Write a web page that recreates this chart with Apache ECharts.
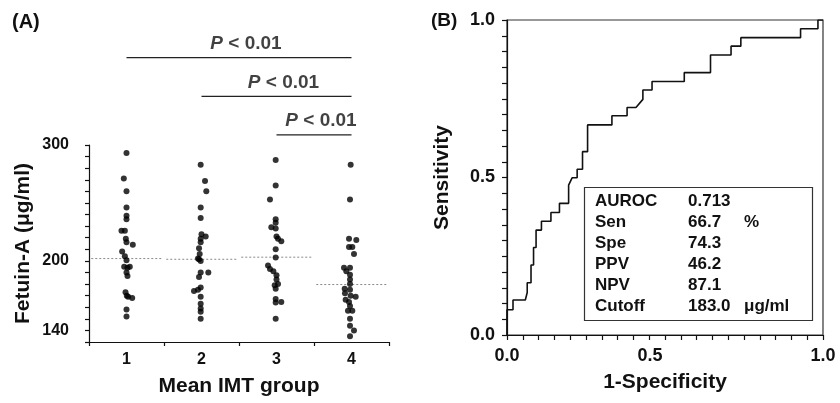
<!DOCTYPE html>
<html><head><meta charset="utf-8">
<script src="https://cdn.jsdelivr.net/npm/echarts/dist/echarts.min.js"></script>
<style>html,body{margin:0;padding:0;background:#fff}#c{width:840px;height:403px}</style>
</head><body><div id="c"></div>
<script>
// ---------- Panel A data ----------
const categories = ['1', '2', '3', '4'];
const yTickLabels = [140, 200, 300];
const g1Values = [293,271,260,246,239,236,226,226,219,216,214,208,204,200.5,195,194,195,190,187,173,170,169,168,158,152];
const g1Jitter = [0,-0.036,0,0,0,0,-0.067,-0.022,-0.009,0,0.084,-0.058,-0.022,0,-0.031,0.013,0.044,0,0.013,-0.013,0.004,0.022,0.076,0,0];
const g2Values = [283,269,260,246,237,223,221,219,216,211,206,202,201.5,200,190,190,186,177,174,175,169,163,159,156,150];
const g2Jitter = [-0.011,0.047,0.064,-0.011,-0.011,0,0.056,-0.011,-0.011,-0.033,-0.024,-0.047,-0.033,-0.011,0.091,-0.011,-0.033,-0.011,-0.1,-0.047,-0.011,-0.011,-0.011,-0.011,-0.011];
const g3Values = [287,265,253,236,233,229,228,221,219,217,210,203,196,193,191,187.5,184,179,180,176,167,164,164.5,150];
const g3Jitter = [-0.011,-0.011,-0.087,-0.011,-0.011,-0.069,-0.011,0,0.02,0.064,-0.011,-0.011,-0.113,-0.087,-0.042,0,0,-0.024,0.02,-0.011,-0.011,-0.011,0.064,-0.011];
const g4Values = [283,253,219,218,212,212,206,194,194,191,188,184,180,176,175,172,170,169,166.5,164.5,161,157,157,150,144,140,135];
const g4Jitter = [-0.011,-0.02,-0.033,0.064,-0.033,0.011,0.033,-0.1,-0.02,-0.069,-0.02,-0.02,-0.02,-0.091,-0.02,-0.087,-0.011,0.056,-0.078,-0.033,-0.02,-0.047,0.011,-0.02,-0.02,0.033,-0.02];
const medians = [202, 201.4, 203.2, 179.6];
const sigFrom = [1, 2, 3];
const sigTo = [4, 4, 4];
const sigLevel = [3, 2, 1];
const sigP = 'P';
const sigRest = ' < 0.01';

// ---------- Panel B data ----------
const rocX = [0,0,0.019,0.019,0.058,0.064,0.064,0.076,0.076,0.084,0.084,0.092,0.092,0.109,0.109,0.139,0.139,0.166,0.166,0.195,0.195,0.206,0.222,0.222,0.239,0.239,0.255,0.255,0.332,0.332,0.38,0.38,0.408,0.43,0.43,0.459,0.459,0.561,0.561,0.644,0.644,0.709,0.709,0.74,0.74,0.929,0.929,0.984,0.984,1.0];
const rocY = [0,0.08,0.08,0.111,0.111,0.135,0.166,0.166,0.222,0.222,0.278,0.278,0.333,0.333,0.361,0.361,0.389,0.389,0.418,0.418,0.476,0.499,0.499,0.526,0.526,0.582,0.582,0.667,0.667,0.696,0.696,0.722,0.722,0.748,0.778,0.778,0.805,0.805,0.833,0.833,0.889,0.889,0.917,0.917,0.944,0.944,0.972,0.972,1.0,1.0];
const rocTickLabels = [0, 0.5, 1];
const statLabels = ['AUROC', 'Sen', 'Spe', 'PPV', 'NPV', 'Cutoff'];
const statValues = ['0.713', '66.7', '74.3', '46.2', '87.1', '183.0'];
const statUnits = ['', '%', '', '', '', 'μg/ml'];

// ---------- build ----------
const FONT = '"Liberation Sans", Arial, Helvetica, sans-serif';
const INK = '#111';
const groupsV = [g1Values, g2Values, g3Values, g4Values];
const groupsJ = [g1Jitter, g2Jitter, g3Jitter, g4Jitter];
const dots = [];
groupsV.forEach((vals, gi) => vals.forEach((v, i) => dots.push([gi + 1 + groupsJ[gi][i], v])));

const series = [];
medians.forEach((m, gi) => series.push({
  type: 'line', xAxisIndex: 1, yAxisIndex: 0, symbol: 'none', silent: true, z: 1,
  data: [[gi + 1 - 0.47, m], [gi + 1 + 0.47, m]],
  lineStyle: { color: '#8a8a8a', width: 1, type: [2, 2] }
}));
series.push({
  type: 'scatter', xAxisIndex: 1, yAxisIndex: 0, symbol: 'circle', symbolSize: 6, z: 3,
  data: dots, itemStyle: { color: '#000' }
});
sigFrom.forEach((f, i) => series.push({
  type: 'line', xAxisIndex: 2, yAxisIndex: 1, symbol: 'none', silent: true,
  data: [[f, sigLevel[i]], [sigTo[i], sigLevel[i]]],
  lineStyle: { color: '#222', width: 1.2 }
}));
series.push({
  type: 'scatter', xAxisIndex: 2, yAxisIndex: 1, symbolSize: 1, silent: true,
  itemStyle: { color: 'rgba(0,0,0,0)' },
  data: sigFrom.map((f, i) => [(f + sigTo[i]) / 2, sigLevel[i]]),
  label: {
    show: true, position: 'top', distance: 4, offset: [7, 0],
    formatter: () => '{p|' + sigP + '}{t|' + sigRest + '}',
    rich: {
      p: { fontFamily: FONT, fontSize: 19, fontWeight: 'bold', fontStyle: 'italic', color: INK },
      t: { fontFamily: FONT, fontSize: 19, fontWeight: 'bold', color: INK }
    }
  }
});
series.push({
  type: 'line', xAxisIndex: 3, yAxisIndex: 2, symbol: 'none', silent: true,
  data: rocX.map((x, i) => [x, rocY[i]]),
  lineStyle: { color: INK, width: 1.6 }
});

const statRows = statLabels.map((l, i) =>
  '{a|' + l + '}{b|' + statValues[i] + '}{c|' + (statUnits[i] || ' ') + '}');
const statStyle = { fontFamily: FONT, fontSize: 17, fontWeight: 'bold', color: INK, lineHeight: 21 };

const axisTxt = { fontFamily: FONT, fontWeight: 'bold', color: INK };
const lineStyle = { color: INK, width: 1.2 };

const option = {
  animation: false,
  backgroundColor: '#fff',
  grid: [
    { left: 89, top: 145, width: 300, height: 197 },
    { left: 89, top: 19, width: 300, height: 154.6 },
    { left: 507, top: 20, width: 316, height: 315, show: true, borderColor: '#333', borderWidth: 1.2, backgroundColor: 'transparent' }
  ],
  title: [{
    left: 584, top: 185,
    text: statRows.join('\n'),
    borderColor: '#333', borderWidth: 1.2,
    padding: [6, 10, 6, 11],
    textStyle: {
      rich: {
        a: Object.assign({ width: 93 }, statStyle),
        b: Object.assign({ width: 56 }, statStyle),
        c: Object.assign({ width: 59 }, statStyle)
      }
    }
  }],
  xAxis: [
    {
      gridIndex: 0, type: 'category', data: categories, boundaryGap: true,
      axisLine: { lineStyle }, axisTick: { show: true, length: 4, lineStyle },
      axisLabel: Object.assign({ fontSize: 16, margin: 10 }, axisTxt),
      splitLine: { show: false },
      name: 'Mean IMT group', nameLocation: 'middle', nameGap: 34,
      nameTextStyle: Object.assign({ fontSize: 21 }, axisTxt)
    },
    { gridIndex: 0, type: 'value', min: 0.5, max: 4.5, show: false },
    { gridIndex: 1, type: 'value', min: 0.5, max: 4.5, show: false },
    {
      gridIndex: 2, type: 'value', min: 0, max: 1, interval: 0.05,
      axisLine: { lineStyle }, axisTick: { length: 5, lineStyle },
      splitLine: { show: false },
      axisLabel: Object.assign({
        fontSize: 18, margin: 12,
        formatter: v => {
          const hit = rocTickLabels.find(t => Math.abs(t - v) < 1e-6);
          if (hit === undefined) return '';
          return hit === 0.5 ? '{s|' + hit.toFixed(1) + '}' : hit.toFixed(1);
        },
        rich: { s: Object.assign({ fontSize: 18, padding: [0, 30, 0, 0] }, axisTxt) }
      }, axisTxt),
      name: '1-Specificity', nameLocation: 'middle', nameGap: 37,
      nameTextStyle: Object.assign({ fontSize: 21 }, axisTxt)
    }
  ],
  yAxis: [
    {
      gridIndex: 0, type: 'value', min: 130, max: 300, interval: 10,
      axisLine: { show: true, lineStyle }, axisTick: { show: true, length: 4, lineStyle },
      splitLine: { show: false },
      axisLabel: Object.assign({
        fontSize: 16, margin: 20,
        formatter: v => yTickLabels.some(t => Math.abs(t - v) < 1e-6) ? String(Math.round(v)) : ''
      }, axisTxt),
      name: 'Fetuin-A (μg/ml)', nameLocation: 'middle', nameGap: 55,
      nameTextStyle: Object.assign({ fontSize: 21 }, axisTxt)
    },
    { gridIndex: 1, type: 'value', min: 0, max: 4, show: false },
    {
      gridIndex: 2, type: 'value', min: 0, max: 1, interval: 0.05,
      axisLine: { show: true, lineStyle }, axisTick: { show: true, length: 5, lineStyle },
      splitLine: { show: false },
      axisLabel: Object.assign({
        fontSize: 18, margin: 12,
        formatter: v => {
          const hit = rocTickLabels.find(t => Math.abs(t - v) < 1e-6);
          return hit === undefined ? '' : hit.toFixed(1);
        }
      }, axisTxt),
      name: 'Sensitivity', nameLocation: 'middle', nameGap: 54,
      nameTextStyle: Object.assign({ fontSize: 21 }, axisTxt)
    }
  ],
  graphic: [
    { type: 'text', left: 12, top: 12, style: { text: '(A)', font: 'bold 20px ' + FONT, fill: INK } },
    { type: 'text', left: 431, top: 11, style: { text: '(B)', font: 'bold 19px ' + FONT, fill: INK } }
  ],
  series
};
const chart = echarts.init(document.getElementById('c'), null, { renderer: 'canvas' });
chart.setOption(option);
</script>
</body></html>
